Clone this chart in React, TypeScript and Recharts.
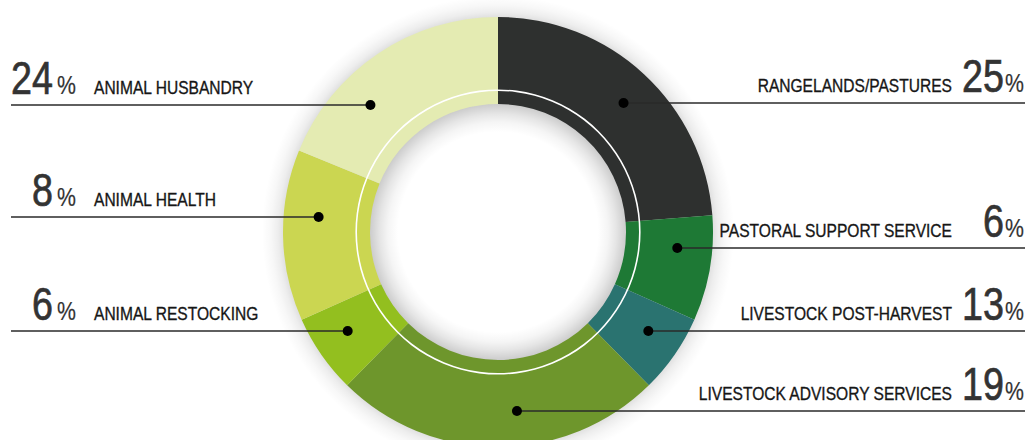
import { PieChart, Pie, Cell } from "recharts";

// slice order is clockwise from 12 o'clock
const categories = [
  "RANGELANDS/PASTURES",
  "PASTORAL SUPPORT SERVICE",
  "LIVESTOCK POST-HARVEST",
  "LIVESTOCK ADVISORY SERVICES",
  "ANIMAL RESTOCKING",
  "ANIMAL HEALTH",
  "ANIMAL HUSBANDRY",
];
// percentages printed next to each label
const labelPercents = [25, 6, 13, 19, 6, 8, 24];
// arc sizes as they are drawn in the ring
const arcShares = [24, 8, 6, 25, 6, 13, 19];
const colors = ["#2e302f", "#1e7935", "#2a7370", "#6e962c", "#93bf1f", "#cbd651", "#e4ebb2"];

// label rows (layout only)
const rowY = [103, 248, 331, 411, 331, 217, 105];
const rowSide = ["right", "right", "right", "right", "left", "left", "left"];

const W = 1028;
const H = 440;
const CX = 498;
const CY = 232;
const R_IN = 128;
const R_OUT = 215;
const SHADE_IN = 100;
const SHADE_OUT = 236;
const DOT_R = 180;
const FONT = '"Liberation Sans", Arial, sans-serif';
const NARROW = 0.82;

// condensed text: Arial-like face squeezed horizontally
const NarrowText = ({ x, y, size, anchor, color, weight, children }: any) => (
  <g transform={`translate(${x},${y}) scale(${NARROW},1)`}>
    <text
      x={0}
      y={0}
      textAnchor={anchor || "start"}
      fontFamily={FONT}
      fontSize={size}
      fill={color}
      stroke={color}
      strokeWidth={weight || 0}
    >
      {children}
    </text>
  </g>
);

const data = categories.map((name, i) => ({ name, value: arcShares[i], pct: labelPercents[i] }));

const renderLabel = (props: any) => {
  const { cx, cy, index } = props;
  const y = rowY[index];
  const left = rowSide[index] === "left";
  const dy = y - cy;
  const dx = Math.sqrt(Math.max(DOT_R * DOT_R - dy * dy, 0));
  const dotX = left ? cx - dx : cx + dx;
  const base = y - 11;
  return (
    <g key={`lbl-${index}`}>
      <line
        x1={left ? 11 : dotX}
        x2={left ? dotX : 1025}
        y1={y}
        y2={y}
        stroke="#2a2a2a"
        strokeWidth={1.5}
      />
      <circle cx={dotX} cy={y} r={5} fill="#000" />
      {left ? (
        <>
          <NarrowText x={53} y={base} size={46} anchor="end" color="#333" weight={0.7}>
            {labelPercents[index]}
          </NarrowText>
          <NarrowText x={57} y={base} size={26} color="#333" weight={0.2}>%</NarrowText>
          <NarrowText x={94} y={base} size={19} color="#161616" weight={0.35}>
            {categories[index]}
          </NarrowText>
        </>
      ) : (
        <>
          <NarrowText x={1024} y={base} size={26} anchor="end" color="#333" weight={0.2}>%</NarrowText>
          <NarrowText x={1004} y={base} size={46} anchor="end" color="#333" weight={0.7}>
            {labelPercents[index]}
          </NarrowText>
          <NarrowText x={952} y={base} size={19} anchor="end" color="#161616" weight={0.35}>
            {categories[index]}
          </NarrowText>
        </>
      )}
    </g>
  );
};

// shade profile: [radius, opacity]
const shadeStops: [number, number][] = [
  [SHADE_IN, 0],
  [110, 0.04],
  [118, 0.1],
  [124, 0.16],
  [R_IN, 0.2],
  [R_OUT, 0.12],
  [220, 0.07],
  [227, 0.03],
  [SHADE_OUT, 0],
];

export default function App() {
  return (
    <div style={{ width: W, height: H, background: "#fff", position: "relative", overflow: "hidden" }}>
      <style>{"body{margin:0}"}</style>
      <svg width={1} height={1} style={{ position: "absolute", left: 0, top: 0 }}>
        <defs>
          <radialGradient id="ringShade" gradientUnits="userSpaceOnUse" cx={CX} cy={CY} r={SHADE_OUT}>
            {shadeStops.map(([r, o]) => (
              <stop key={r} offset={r / SHADE_OUT} stopColor="#000" stopOpacity={o} />
            ))}
          </radialGradient>
        </defs>
      </svg>
      <PieChart width={W} height={H} margin={{ top: 0, right: 0, bottom: 0, left: 0 }}>
        <Pie
          data={[{ value: 1 }]}
          dataKey="value"
          cx={CX}
          cy={CY}
          innerRadius={SHADE_IN}
          outerRadius={SHADE_OUT}
          stroke="none"
          isAnimationActive={false}
        >
          <Cell fill="url(#ringShade)" />
        </Pie>
        <Pie
          data={data}
          dataKey="value"
          cx={CX}
          cy={CY}
          innerRadius={R_IN}
          outerRadius={R_OUT}
          startAngle={90}
          endAngle={-270}
          stroke="none"
          label={renderLabel}
          labelLine={false}
          isAnimationActive={false}
        >
          {data.map((d, i) => (
            <Cell key={d.name} fill={colors[i]} />
          ))}
        </Pie>
        <Pie
          data={[{ value: 1 }]}
          dataKey="value"
          cx={CX}
          cy={CY}
          innerRadius={141}
          outerRadius={142.6}
          fill="#fff"
          stroke="none"
          isAnimationActive={false}
        />
      </PieChart>
    </div>
  );
}
